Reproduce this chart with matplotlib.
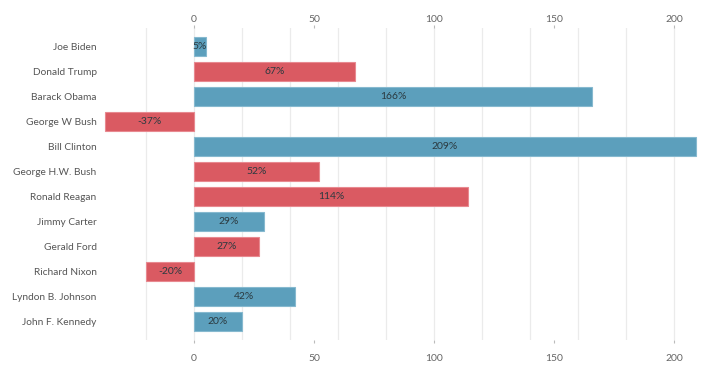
import matplotlib.pyplot as plt
import numpy as np

presidents = ['Joe Biden', 'Donald Trump', 'Barack Obama', 'George W Bush',
              'Bill Clinton', 'George H.W. Bush', 'Ronald Reagan', 'Jimmy Carter',
              'Gerald Ford', 'Richard Nixon', 'Lyndon B. Johnson', 'John F. Kennedy']
returns = [5, 67, 166, -37, 209, 52, 114, 29, 27, -20, 42, 20]
party = ['D', 'R', 'D', 'R', 'D', 'R', 'R', 'D', 'R', 'R', 'D', 'D']

grid_ticks = list(range(-20, 201, 20))
label_ticks = [0, 50, 100, 150, 200]

colors = {'D': '#5c9fbc', 'R': '#da5a62'}
edges = {'D': '#86b9cf', 'R': '#e88990'}

plt.rcParams['font.family'] = ['Lato', 'DejaVu Sans']

fig = plt.figure(figsize=(7.02, 3.66), dpi=100)
ax = fig.add_axes((0.1396, 0.0710, 0.8547, 0.8525))

y = np.arange(len(presidents))
ax.barh(y, returns, height=0.76,
        color=[colors[p] for p in party],
        edgecolor=[edges[p] for p in party], linewidth=0.8, zorder=2)

for i, v in enumerate(returns):
    ax.text(v / 2, i, f'{v}%', ha='center', va='center',
            fontsize=7.5, color='#2b3a40', zorder=3)

for g in grid_ticks:
    ax.axvline(g, color='#ebebeb', linewidth=0.9, zorder=0)

ax.set_xlim(-40, 210)
ax.set_ylim(11.72, -0.72)
ax.set_yticks(y)
ax.set_yticklabels(presidents)
ax.set_xticks(label_ticks)
ax.tick_params(axis='x', bottom=True, labelbottom=True, length=2,
               color='#bbbbbb', labelsize=7.5, labelcolor='#666666', pad=8)
ax.tick_params(axis='y', length=0, labelsize=7.3, labelcolor='#555555', pad=1)

top = ax.secondary_xaxis('top')
top.set_xticks(label_ticks)
top.tick_params(length=2, color='#bbbbbb', labelsize=7.5,
                labelcolor='#666666', pad=1)
top.spines['top'].set_visible(False)

for s in ax.spines.values():
    s.set_visible(False)

fig.savefig('out.png', dpi=100)
